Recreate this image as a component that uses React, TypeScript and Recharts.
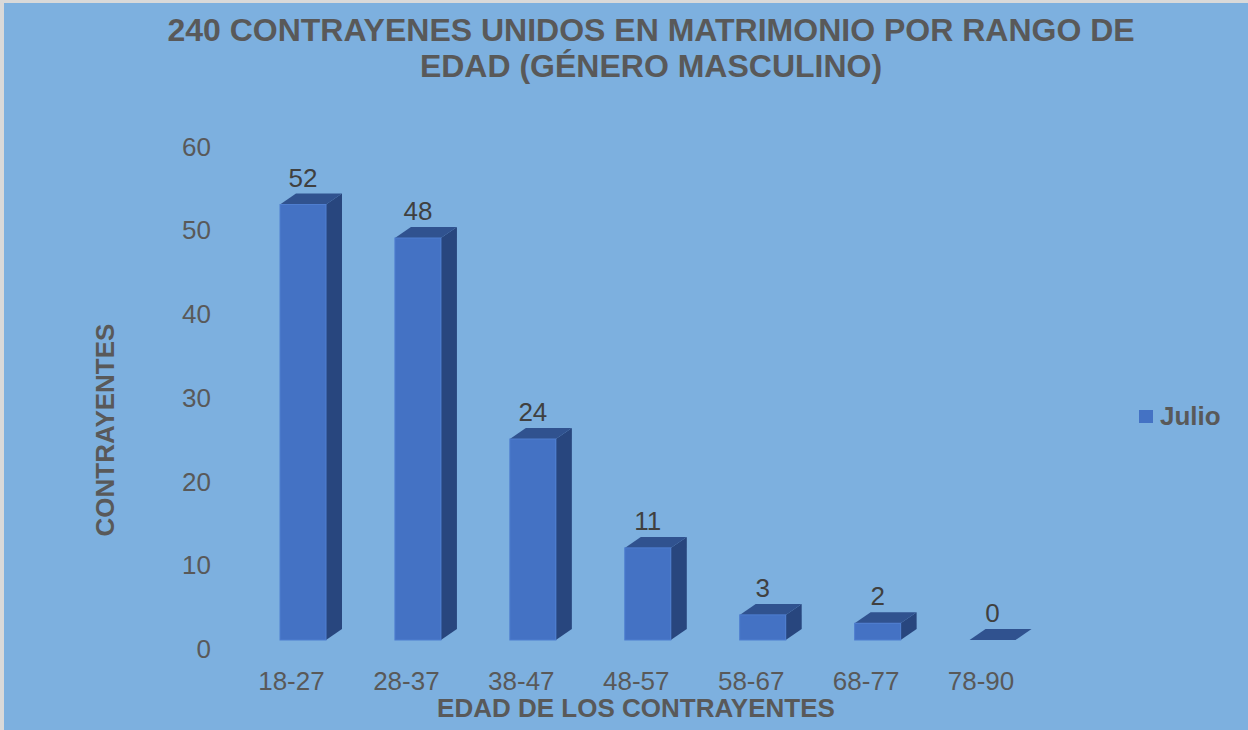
import React from 'react';
import { BarChart, Bar, XAxis, YAxis, LabelList } from 'recharts';

const categories = ['18-27', '28-37', '38-47', '48-57', '58-67', '68-77', '78-90'];
const julio = [52, 48, 24, 11, 3, 2, 0];
const yTicks = [0, 10, 20, 30, 40, 50, 60];
const titleLines = ['240 CONTRAYENES UNIDOS EN MATRIMONIO POR RANGO DE', 'EDAD (GÉNERO MASCULINO)'];
const xTitle = 'EDAD DE LOS CONTRAYENTES';
const yTitle = 'CONTRAYENTES';
const seriesName = 'Julio';

const data = categories.map((c, i) => ({ rango: c, Julio: julio[i] }));

const FONT = '"Liberation Sans", Arial, sans-serif';
const BG = '#7DB0DF';
const FRONT = '#4472C4';
const TOP = '#30528F';
const SIDE = '#28467E';
const DX = 16;
const DY = 11;

const Bar3D = (props: any) => {
  const { x, y, width, height } = props;
  const h = Math.max(0, height || 0);
  return (
    <g>
      {h > 0 && (
        <polygon
          points={`${x + width},${y} ${x + width + DX},${y - DY} ${x + width + DX},${y + h - DY} ${x + width},${y + h}`}
          fill={SIDE}
        />
      )}
      <polygon
        points={`${x},${y} ${x + DX},${y - DY} ${x + width + DX},${y - DY} ${x + width},${y}`}
        fill={TOP}
      />
      {h > 0 && <rect x={x} y={y} width={width} height={h} fill={FRONT} stroke="#4F7ED0" strokeWidth={1} />}
    </g>
  );
};

const ValueLabel = (props: any) => {
  const { x, y, width, value } = props;
  return (
    <text x={x + width / 2} y={y - 18} textAnchor="middle" fill="#404040" fontSize={26} fontFamily={FONT}>
      {value}
    </text>
  );
};

const XTick = (props: any) => {
  const { x, y, payload } = props;
  return (
    <text x={x - 12} y={y + 50} textAnchor="middle" fill="#595959" fontSize={26} fontFamily={FONT}>
      {payload.value}
    </text>
  );
};

const YTick = (props: any) => {
  const { x, y, payload } = props;
  return (
    <text x={x} y={y + 18} textAnchor="end" fill="#595959" fontSize={26} fontFamily={FONT}>
      {payload.value}
    </text>
  );
};

export default function App() {
  return (
    <div style={{ position: 'absolute', left: 0, top: 0, width: 1248, height: 730, background: BG, overflow: 'hidden' }}>
      <div style={{ position: 'absolute', left: 0, top: 0, width: 1248, height: 3, background: '#D9D9D9' }} />
      <div style={{ position: 'absolute', left: 0, top: 0, width: 4, height: 730, background: '#D9D9D9' }} />
      <svg width={1248} height={730} style={{ position: 'absolute', left: 0, top: 0 }}>
        {titleLines.map((t, i) => (
          <text key={i} x={651} y={41 + i * 36} textAnchor="middle" fontSize={32} fontWeight="bold" fill="#595959" fontFamily={FONT}>
            {t}
          </text>
        ))}
        <text x={636} y={717} textAnchor="middle" fontSize={26} fontWeight="bold" fill="#595959" fontFamily={FONT}>
          {xTitle}
        </text>
        <text x={114} y={430} transform="rotate(-90 114 430)" textAnchor="middle" fontSize={26} fontWeight="bold" fill="#595959" fontFamily={FONT}>
          {yTitle}
        </text>
        <rect x={1139} y={410} width={14} height={13} fill={FRONT} />
        <text x={1160} y={425} fontSize={26} fontWeight="bold" fill="#595959" fontFamily={FONT}>
          {seriesName}
        </text>
      </svg>
      <div style={{ position: 'absolute', left: 0, top: 0 }}>
        <BarChart width={1248} height={730} data={data} margin={{ top: 137.5, right: 197.5, bottom: 30, left: 186 }}>
          <XAxis dataKey="rango" axisLine={false} tickLine={false} tickSize={0} tickMargin={0} height={60} tick={<XTick />} interval={0} />
          <YAxis domain={[0, 60]} ticks={yTicks} axisLine={false} tickLine={false} tickSize={0} tickMargin={35} width={60} tick={<YTick />} interval={0} />
          <Bar dataKey="Julio" name={seriesName} barSize={46} shape={<Bar3D />} isAnimationActive={false}>
            <LabelList dataKey="Julio" content={<ValueLabel />} />
          </Bar>
        </BarChart>
      </div>
    </div>
  );
}
